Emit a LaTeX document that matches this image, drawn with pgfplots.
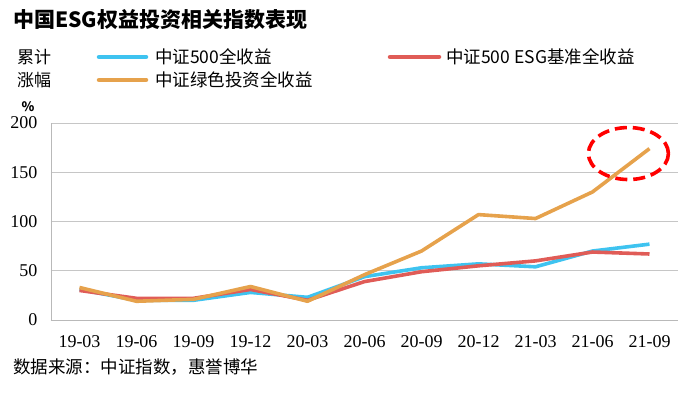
\documentclass[border=0pt]{standalone}
\usepackage{pgfplots}
\pgfplotsset{compat=1.18}
\usepackage{fontspec}
\setmainfont{Liberation Serif}
\newfontfamily\tickfont{Liberation Serif}
\newfontfamily\cjk{Noto Sans CJK SC}
\definecolor{cblue}{HTML}{3EC3F0}
\definecolor{cred}{HTML}{E05C57}
\definecolor{corange}{HTML}{E6A24C}
\begin{document}
\begin{tikzpicture}[x=1pt,y=1pt]
\path[use as bounding box] (0,0) rectangle (696,395);
\begin{axis}[at={(51pt,75pt)}, anchor=south west, scale only axis,
  width=627pt, height=197pt,
  xmin=-0.5, xmax=10.5, ymin=0, ymax=200,
  xtick={0,1,2,3,4,5,6,7,8,9,10},
  xticklabels={19-03,19-06,19-09,19-12,20-03,20-06,20-09,20-12,21-03,21-06,21-09},
  ytick={0,50,100,150,200},
  axis x line*=bottom, axis y line*=left,
  axis line style={draw=gray!55, line width=0.9pt},
  ymajorgrids, grid style={draw=gray!45, line width=0.9pt},
  major tick length=0pt, tick style={draw=none},
  ticklabel style={font=\tickfont\fontsize{18}{18}\selectfont},
  /pgf/number format/assume math mode=true,
  xticklabel style={yshift=-12pt},
  yticklabel style={xshift=-10pt},
  line join=round,
]
\addplot[cblue, line width=3.6pt] coordinates {(0,31) (1,20) (2,20) (3,28) (4,23) (5,44) (6,53) (7,57) (8,54) (9,70) (10,77)};
\addplot[cred, line width=3.6pt] coordinates {(0,30) (1,22) (2,22) (3,31) (4,20) (5,39) (6,49) (7,55) (8,60) (9,69) (10,67)};
\addplot[corange, line width=3.6pt] coordinates {(0,33) (1,19) (2,21) (3,34) (4,19) (5,46) (6,70) (7,107) (8,103) (9,130) (10,174)};
\draw[red, line width=3.6pt, dash pattern=on 12pt off 6pt] (axis cs:9.63,169) ellipse [x radius=40pt, y radius=26pt];
\end{axis}
\node[anchor=west, inner sep=0pt] at (13,375) {\cjk\bfseries\fontsize{21}{21}\selectfont 中国ESG权益投资相关指数表现};
\node[anchor=west, inner sep=0pt] at (17,338) {\cjk\fontsize{17}{17}\selectfont 累计};
\node[anchor=west, inner sep=0pt] at (17,315) {\cjk\fontsize{17}{17}\selectfont 涨幅};
\node[anchor=center, inner sep=0pt] at (28,288) {\cjk\bfseries\fontsize{13}{13}\selectfont \%};
\draw[cblue, line width=4.5pt, line cap=round] (99,338) -- (146,338);
\node[anchor=west, inner sep=0pt] at (155,338) {\cjk\fontsize{17.5}{17.5}\selectfont 中证500全收益};
\draw[cred, line width=4.5pt, line cap=round] (390,338) -- (439,338);
\node[anchor=west, inner sep=0pt] at (446,338) {\cjk\fontsize{17.5}{17.5}\selectfont 中证500 ESG基准全收益};
\draw[corange, line width=4.5pt, line cap=round] (99,315) -- (146,315);
\node[anchor=west, inner sep=0pt] at (155,315) {\cjk\fontsize{17.5}{17.5}\selectfont 中证绿色投资全收益};
\node[anchor=west, inner sep=0pt] at (13,28) {\cjk\fontsize{17.5}{17.5}\selectfont 数据来源：中证指数，惠誉博华};
\end{tikzpicture}
\end{document}
